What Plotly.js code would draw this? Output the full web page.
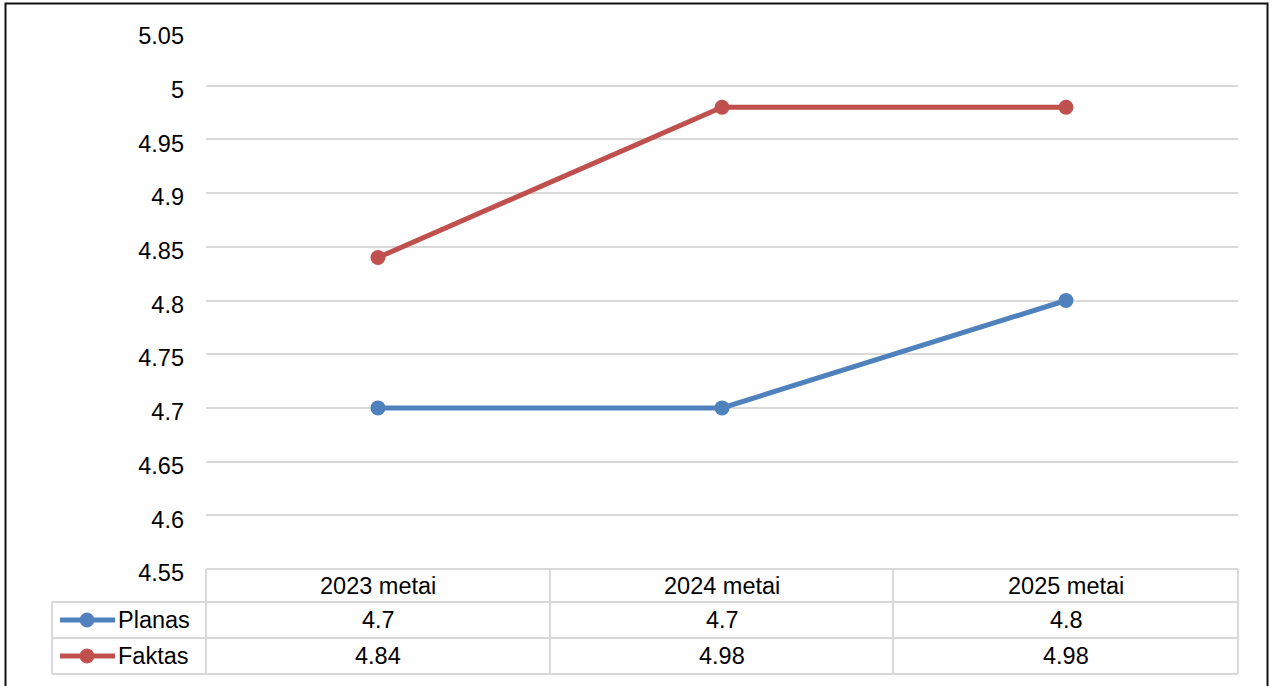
<!DOCTYPE html>
<html>
<head>
<meta charset="utf-8">
<script src="https://cdn.plot.ly/plotly-3.0.1.min.js"></script>
<style>
html,body{margin:0;padding:0;background:#fff;}
#chart{width:1277px;height:686px;}
</style>
</head>
<body>
<div id="chart"></div>
<script>
const categories = ["2023 metai", "2024 metai", "2025 metai"];
const seriesNames = ["Planas", "Faktas"];
const planas = [4.7, 4.7, 4.8];
const faktas = [4.84, 4.98, 4.98];
const yTickVals = [4.55, 4.6, 4.65, 4.7, 4.75, 4.8, 4.85, 4.9, 4.95, 5, 5.05];
const yTickText = ["4.55", "4.6", "4.65", "4.7", "4.75", "4.8", "4.85", "4.9", "4.95", "5", "5.05"];

const colors = ["#4F81BD", "#C0504D"];
const values = [planas, faktas];
const FONT = "Liberation Sans, Arial, sans-serif";
const FS = 23.5;

// plot area in pixels
const L = 206, R = 1238, T = 32, B = 569;
const W = R - L, H = B - T;
const px = x => (x - L) / W;
const py = y => (B - y) / H;

const traces = values.map((v, i) => ({
  x: categories,
  y: v,
  type: "scatter",
  mode: "lines+markers",
  name: seriesNames[i],
  line: {color: colors[i], width: 5},
  marker: {color: colors[i], size: 15},
  showlegend: false,
  cliponaxis: false
}));

const gridC = "#D9D9D9";
const shapes = [];
const line = (x0, y0, x1, y1, c, w) => shapes.push({type: "line", xref: "paper", yref: "paper",
  x0: px(x0), y0: py(y0), x1: px(x1), y1: py(y1), line: {color: c, width: w}});

// table rows
const rowTop = 569, rowH1 = 602, rowH2 = 638, rowBot = 674;
const colX = [206, 550, 893, 1238];
const legLeft = 52;
line(206, rowTop, 1238, rowTop, gridC, 2);
line(legLeft, rowH1, 1238, rowH1, gridC, 2);
line(legLeft, rowH2, 1238, rowH2, gridC, 2);
line(legLeft, rowBot, 1238, rowBot, gridC, 2);
line(legLeft, rowH1, legLeft, rowBot, gridC, 2);
colX.forEach(x => line(x, rowTop, x, rowBot, gridC, 2));

// legend keys
const rowCenters = [(rowH1 + rowH2) / 2, (rowH2 + rowBot) / 2];
rowCenters.forEach((cy, i) => {
  line(60, cy, 115, cy, colors[i], 5);
  shapes.push({type: "circle", xref: "paper", yref: "paper",
    x0: px(80), x1: px(94), y0: py(cy - 7), y1: py(cy + 7),
    fillcolor: colors[i], line: {color: colors[i], width: 1}});
});

// outer frame
shapes.push({type: "rect", xref: "paper", yref: "paper",
  x0: px(5.5), x1: px(1267.5), y0: py(3.5), y1: py(720),
  line: {color: "#111", width: 2}, fillcolor: "rgba(0,0,0,0)"});

const annotations = [];
const headerY = (rowTop + rowH1) / 2 + 0.5;
categories.forEach((c, j) => {
  annotations.push({x: c, xref: "x", y: py(headerY), yref: "paper", text: c, showarrow: false,
    xanchor: "center", yanchor: "middle", font: {family: FONT, size: FS, color: "#000"}});
  values.forEach((v, i) => {
    annotations.push({x: c, xref: "x", y: py(rowCenters[i]), yref: "paper", text: String(v[j]),
      showarrow: false, xanchor: "center", yanchor: "middle", font: {family: FONT, size: FS, color: "#000"}});
  });
});
seriesNames.forEach((n, i) => {
  annotations.push({x: px(116), xref: "paper", y: py(rowCenters[i]), yref: "paper", text: n,
    showarrow: false, xanchor: "left", yanchor: "middle", font: {family: FONT, size: FS, color: "#000"}});
});

const layout = {
  width: 1277, height: 686,
  margin: {l: L, r: 1277 - R, t: T, b: 686 - B, pad: 0},
  paper_bgcolor: "#fff", plot_bgcolor: "#fff",
  font: {family: FONT, size: FS, color: "#000"},
  xaxis: {type: "category", range: [-0.5, 2.5], showticklabels: false, showgrid: false,
    zeroline: false, showline: false, ticks: ""},
  yaxis: {range: [4.55, 5.05], tickvals: yTickVals, ticktext: yTickText, showgrid: true,
    gridcolor: gridC, gridwidth: 2, zeroline: false, showline: false, ticks: "",
    ticklabelstandoff: 21, ticklabelshift: 4, tickfont: {family: FONT, size: FS, color: "#000"}},
  shapes: shapes,
  annotations: annotations
};

Plotly.newPlot("chart", traces, layout, {displayModeBar: false, staticPlot: true});
</script>
</body>
</html>
